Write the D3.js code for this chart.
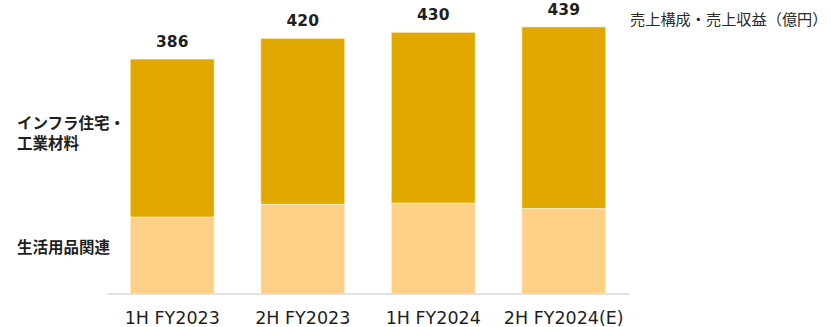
<!DOCTYPE html>
<html>
<head>
<meta charset="utf-8">
<script src="https://cdn.jsdelivr.net/npm/d3@7"></script>
<style>
	body { margin: 0; background: #fff; }
	svg { display: block; }
</style>
</head>
<body>
<div id="chart"></div>
<script>
// 売上構成 (億円)
const categories = ["1H FY2023", "2H FY2023", "1H FY2024", "2H FY2024(E)"];
const lifeGoods = [126, 147, 149, 140];      // 生活用品関連
const infraMaterials = [260, 273, 281, 299]; // インフラ住宅・工業材料
const totals = [386, 420, 430, 439];

const params = {
	selector: "#chart",
	width: 831,
	height: 327,
	darkColor: "#E1A900",
	lightColor: "#FED087",
	textColor: "#1f1f1f"
};

const svg = d3.select(params.selector)
	.append("svg")
	.attr("width", params.width)
	.attr("height", params.height);

const xScale = d3.scaleBand()
	.domain(categories)
	.range([107, 629])
	.paddingInner(0.357)
	.paddingOuter(0.1785);

const yScale = d3.scaleLinear()
	.domain([0, 480])
	.range([293.5, 2]);

// stack the two segments
const rows = categories.map((c, i) => ({cat: c, life: lifeGoods[i], infra: infraMaterials[i], total: totals[i]}));
const stacked = d3.stack().keys(["life", "infra"])(rows);
const colorScale = d3.scaleOrdinal()
	.domain(["life", "infra"])
	.range([params.lightColor, params.darkColor]);

svg.append("g")
	.selectAll("g")
	.data(stacked)
	.join("g")
	.attr("fill", d => colorScale(d.key))
	.selectAll("rect")
	.data(d => d)
	.join("rect")
	.attr("x", d => xScale(d.data.cat))
	.attr("y", d => yScale(d[1]))
	.attr("width", xScale.bandwidth())
	.attr("height", d => yScale(d[0]) - yScale(d[1]))
	.attr("stroke", "rgba(255,255,255,0.45)")
	.attr("stroke-width", 1);

// x axis (domain line only + labels)
const xAxis = svg.append("g")
	.attr("transform", `translate(0, ${yScale(0)})`)
	.call(d3.axisBottom(xScale).tickSize(0).tickPadding(18).tickSizeOuter(0));
xAxis.select(".domain")
	.attr("stroke", "#d9d9d9")
	.attr("stroke-width", 1.5);
xAxis.selectAll("text")
	.attr("font-family", "'DejaVu Sans', sans-serif")
	.attr("font-size", "17.5px")
	.attr("fill", params.textColor);

// total labels
svg.append("g")
	.selectAll("text")
	.data(rows)
	.join("text")
	.attr("x", d => xScale(d.cat) + xScale.bandwidth() / 2)
	.attr("y", d => yScale(d.total) - 12)
	.attr("text-anchor", "middle")
	.attr("font-family", "'DejaVu Sans', sans-serif")
	.attr("font-weight", "bold")
	.attr("font-size", "15.5px")
	.attr("fill", params.textColor)
	.text(d => d.total);

// segment labels on the left
const labelFont = "'Noto Sans CJK JP', 'Noto Sans', sans-serif";
const infraLabel = svg.append("text")
	.attr("x", 17)
	.attr("font-family", labelFont)
	.attr("font-weight", "bold")
	.attr("font-size", "15.5px")
	.attr("fill", params.textColor);
infraLabel.append("tspan").attr("x", 17).attr("y", 129).text("インフラ住宅・");
infraLabel.append("tspan").attr("x", 17).attr("y", 149).text("工業材料");

svg.append("text")
	.attr("x", 17)
	.attr("y", 253)
	.attr("font-family", labelFont)
	.attr("font-weight", "bold")
	.attr("font-size", "15.5px")
	.attr("fill", params.textColor)
	.text("生活用品関連");

// title / unit
svg.append("text")
	.attr("x", 630)
	.attr("y", 25)
	.attr("font-family", labelFont)
	.attr("font-size", "15.2px")
	.attr("fill", "#2a2a2a")
	.text("売上構成・売上収益（億円）");
</script>
</body>
</html>
